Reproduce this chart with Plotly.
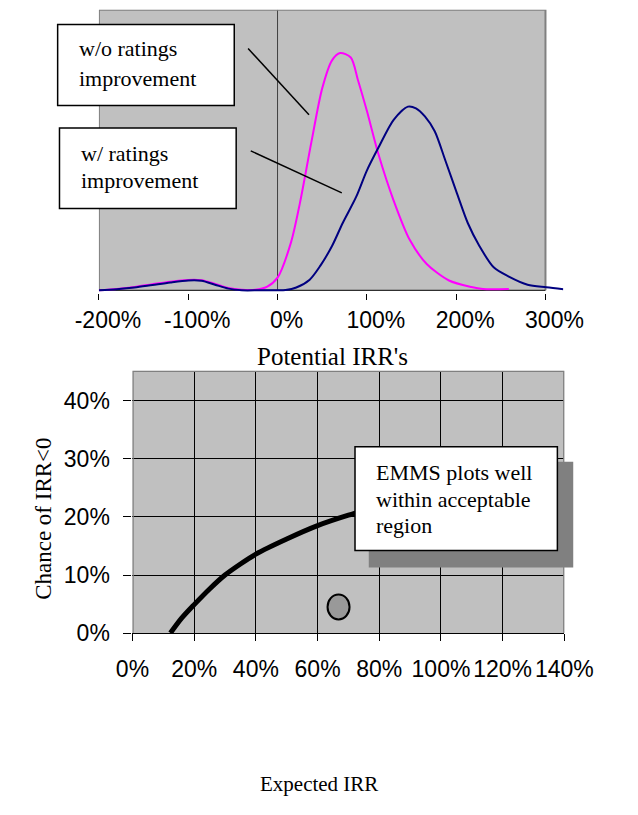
import plotly.graph_objects as go

W, H = 638, 815

# ---------------- data ----------------
# Top chart: distribution of potential IRR's (relative density)
pink_x = [-200, -180, -160, -140, -120, -100, -85, -70, -55, -40, -25, -12, 0, 15, 25, 38, 50, 61, 70,
          82, 90, 100, 113, 130, 148, 167, 192, 217, 230, 259]
pink_y = [0.0, 0.005, 0.012, 0.022, 0.031, 0.037, 0.036, 0.023, 0.008, 0.002, 0.002, 0.012, 0.045, 0.17,
          0.31, 0.53, 0.72, 0.82, 0.846, 0.83, 0.75, 0.64, 0.485, 0.32, 0.18, 0.094, 0.035, 0.012, 0.005, 0.005]

blue_x = [-200, -180, -160, -140, -120, -100, -85, -70, -55, -40, -20, 0, 9, 21, 36, 48, 61, 73, 88, 100,
          113, 130, 146, 155, 165, 176, 188, 201, 213, 226, 242, 259, 280, 301, 320]
blue_y = [0.0, 0.004, 0.010, 0.019, 0.028, 0.035, 0.034, 0.020, 0.006, 0.0, 0.0, 0.0, 0.001, 0.010, 0.038,
          0.088, 0.158, 0.24, 0.333, 0.427, 0.509, 0.608, 0.655, 0.649, 0.62, 0.567, 0.462, 0.345, 0.24,
          0.158, 0.082, 0.049, 0.02, 0.011, 0.004]

top_tick_vals = [-200, -100, 0, 100, 200, 300]
top_tick_text = ["-200%", "-100%", "0%", "100%", "200%", "300%"]

# Bottom chart: acceptable-region frontier and EMMS point (percent)
frontier_x = [12.3, 16, 20, 25, 30, 35, 40, 50, 60, 70, 80]
frontier_y = [0.0, 2.6, 4.9, 7.6, 10.0, 11.9, 13.6, 16.2, 18.5, 20.3, 21.8]
emms_x = [66.8]
emms_y = [4.5]

bottom_x_ticks = [0, 20, 40, 60, 80, 100, 120, 140]
bottom_x_text = ["0%", "20%", "40%", "60%", "80%", "100%", "120%", "140%"]
bottom_y_ticks = [0, 10, 20, 30, 40]
bottom_y_text = ["0%", "10%", "20%", "30%", "40%"]


# ---------------- helpers (pixel -> paper) ----------------
def px(x):
    return x / W


def py(y):
    return 1 - y / H


SERIF = "Liberation Serif, Times New Roman, serif"
SANS = "Liberation Sans, Arial, sans-serif"

fig = go.Figure()
fig.add_trace(go.Scatter(x=pink_x, y=pink_y, mode="lines",
                         line=dict(color="#FF00FF", width=2, shape="spline", smoothing=0.8),
                         xaxis="x", yaxis="y", showlegend=False, hoverinfo="skip"))
fig.add_trace(go.Scatter(x=blue_x, y=blue_y, mode="lines",
                         line=dict(color="#000080", width=2, shape="spline", smoothing=0.8),
                         xaxis="x", yaxis="y", showlegend=False, hoverinfo="skip"))
fig.add_trace(go.Scatter(x=frontier_x, y=frontier_y, mode="lines",
                         line=dict(color="black", width=5, shape="spline", smoothing=0.8),
                         xaxis="x2", yaxis="y2", showlegend=False, hoverinfo="skip"))

shapes = []
# ---- top chart ----
shapes.append(dict(type="rect", xref="x", yref="y", x0=top_tick_vals[0], x1=top_tick_vals[-1], y0=0, y1=1,
                   fillcolor="#C0C0C0", line=dict(width=0), layer="below"))
shapes.append(dict(type="line", xref="x", yref="y", x0=0, x1=0, y0=0, y1=1,
                   line=dict(color="#404040", width=1), layer="below"))
shapes.append(dict(type="path", xref="x", yref="y",
                   path=f"M {top_tick_vals[0]},0 L {top_tick_vals[0]},1 L {top_tick_vals[-1]},1 L {top_tick_vals[-1]},0",
                   line=dict(color="#808080", width=2), layer="below"))
shapes.append(dict(type="line", xref="x", yref="y", x0=top_tick_vals[0], x1=top_tick_vals[-1], y0=0, y1=0,
                   line=dict(color="black", width=1), layer="below"))
# connector lines
shapes.append(dict(type="line", xref="paper", yref="paper", x0=px(244.4), y0=py(49.3), x1=px(310.8), y1=py(116.7),
                   line=dict(color="black", width=1.5)))
shapes.append(dict(type="line", xref="paper", yref="paper", x0=px(247.3), y0=py(153.3), x1=px(346.6), y1=py(196),
                   line=dict(color="black", width=1.5)))
# label boxes
shapes.append(dict(type="rect", xref="paper", yref="paper", x0=px(36.7), x1=px(229.3), y0=py(107.3), y1=py(25),
                   fillcolor="white", line=dict(color="black", width=1.5)))
shapes.append(dict(type="rect", xref="paper", yref="paper", x0=px(38.7), x1=px(231.4), y0=py(212), y1=py(130),
                   fillcolor="white", line=dict(color="black", width=1.5)))

# ---- bottom chart ----
shapes.append(dict(type="rect", xref="x2", yref="y2", x0=0, x1=140, y0=0, y1=45.2,
                   fillcolor="#C0C0C0", line=dict(width=0), layer="below"))
shapes.append(dict(type="path", xref="x2", yref="y2", path="M 0,0 L 0,45.2 L 140,45.2 L 140,0",
                   line=dict(color="#808080", width=2.5)))
shapes.append(dict(type="circle", xref="x2", yref="y2", xsizemode="pixel", ysizemode="pixel",
                   xanchor=emms_x[0], yanchor=emms_y[0], x0=-11, x1=11, y0=-12.5, y1=12.5,
                   fillcolor="#999999", line=dict(color="black", width=2)))
shapes.append(dict(type="rect", xref="paper", yref="paper", x0=px(376), x1=px(599), y0=py(576.7), y1=py(469.3),
                   fillcolor="#808080", line=dict(width=0)))
shapes.append(dict(type="rect", xref="paper", yref="paper", x0=px(361), x1=px(581.7), y0=py(559.3), y1=py(454),
                   fillcolor="white", line=dict(color="black", width=1.5)))

annotations = []


def txt(text, x, y, size=22, xanchor="left", angle=0):
    annotations.append(dict(text=text, x=px(x), y=py(y), xref="paper", yref="paper", showarrow=False,
                            xanchor=xanchor, yanchor="middle", textangle=angle,
                            font=dict(family=SERIF, size=size, color="black")))


txt("w/o ratings", 58.2, 49)
txt("improvement", 58.2, 80)
txt("w/ ratings", 59.9, 155.5)
txt("improvement", 59.9, 183.5)
txt("Potential IRR's", 336, 362, size=25, xanchor="center")
txt("EMMS plots well", 381.7, 480.5)
txt("within acceptable", 381.7, 507.7)
txt("region", 381.7, 534.4)
txt("Chance of IRR<0", 21, 527, size=23, xanchor="center", angle=-90)
txt("Expected IRR", 322, 797, size=21, xanchor="center")

fig.update_layout(
    width=W, height=H, autosize=False,
    margin=dict(l=0, r=0, t=0, b=0),
    paper_bgcolor="white", plot_bgcolor="rgba(0,0,0,0)",
    shapes=shapes, annotations=annotations,
    xaxis=dict(domain=[px(81.7), px(588.2)], range=[-200, 320], anchor="y",
               tickmode="array", tickvals=top_tick_vals, ticktext=top_tick_text,
               ticks="outside", ticklen=6, tickcolor="black", tickwidth=1, tickangle=0,
               ticklabelshift=9, ticklabelstandoff=1,
               showgrid=False, zeroline=False, showline=False,
               tickfont=dict(family=SANS, size=23, color="black")),
    yaxis=dict(domain=[py(297.3), py(10)], range=[-0.008, 1.0], anchor="x",
               visible=False, showgrid=False, zeroline=False),
    xaxis2=dict(domain=[px(118.3), px(589.3)], range=[0, 140], anchor="y2",
                tickmode="array", tickvals=bottom_x_ticks, ticktext=bottom_x_text,
                ticks="outside", ticklen=7, tickcolor="black", tickwidth=1, tickangle=0,
                ticklabelstandoff=8,
                showgrid=True, gridcolor="black", gridwidth=1, zeroline=False,
                showline=True, linecolor="black", linewidth=1,
                tickfont=dict(family=SANS, size=23, color="black")),
    yaxis2=dict(domain=[py(643.3), py(376.7)], range=[0, 45.2], anchor="x2",
                tickmode="array", tickvals=bottom_y_ticks, ticktext=bottom_y_text,
                ticks="outside", ticklen=8, tickcolor="black", tickwidth=1,
                ticklabelstandoff=9,
                showgrid=True, gridcolor="black", gridwidth=1, zeroline=False, showline=False,
                tickfont=dict(family=SANS, size=23, color="black")),
)

fig.write_html("out.html", config={"displayModeBar": False},
               post_script="document.body.style.margin='0px';")
